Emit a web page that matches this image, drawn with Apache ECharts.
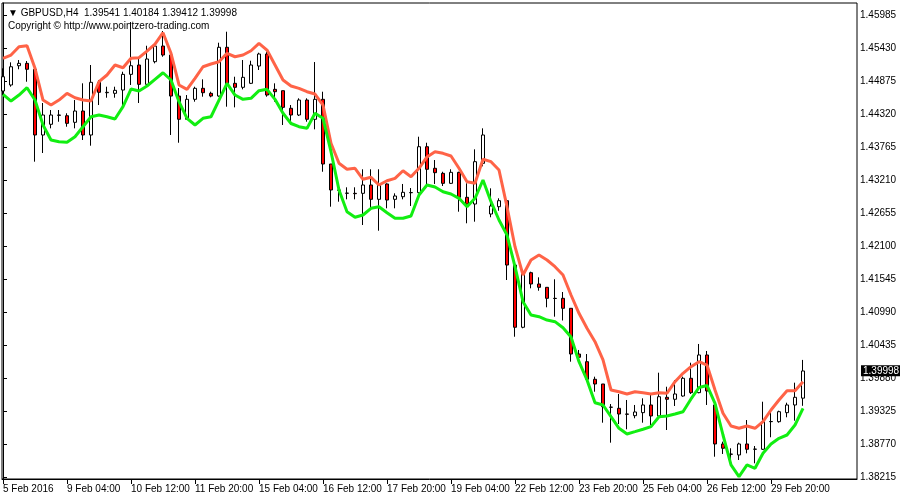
<!DOCTYPE html>
<html>
<head>
<meta charset="utf-8">
<script src="https://cdn.jsdelivr.net/npm/echarts@6/dist/echarts.min.js"></script>
<style>html,body{margin:0;padding:0;background:#fff}#c{width:900px;height:500px}</style>
</head>
<body>
<div id="c"></div>
<script>
// GBPUSD H4 candles: [open, close, low, high]
const candles = [
[1.44707,1.44947,1.44639,1.45088],
[1.44808,1.45115,1.44779,1.45189],
[1.45132,1.45172,1.45072,1.45228],
[1.45172,1.45072,1.44863,1.45211],
[1.45072,1.43967,1.43518,1.45088],
[1.43967,1.44303,1.43664,1.44505],
[1.44147,1.44303,1.44079,1.44387],
[1.44303,1.44298,1.44190,1.44387],
[1.44291,1.44163,1.44106,1.44332],
[1.44180,1.44370,1.44079,1.44555],
[1.44370,1.43967,1.43883,1.44836],
[1.43967,1.44853,1.43787,1.45144],
[1.44853,1.44685,1.44471,1.44892],
[1.44678,1.44685,1.44594,1.44779],
[1.44668,1.44718,1.44594,1.44779],
[1.44723,1.44987,1.44471,1.45031],
[1.44987,1.45132,1.44808,1.45867],
[1.45144,1.44819,1.44505,1.45262],
[1.44819,1.45245,1.44779,1.45468],
[1.45200,1.45463,1.45172,1.45509],
[1.45463,1.45312,1.45283,1.45716],
[1.45312,1.44622,1.43967,1.45329],
[1.44622,1.44231,1.43837,1.44757],
[1.44231,1.44567,1.44219,1.44639],
[1.44567,1.44752,1.44527,1.44779],
[1.44752,1.44678,1.44611,1.44903],
[1.44668,1.44622,1.44601,1.44695],
[1.44622,1.45442,1.44611,1.45519],
[1.45442,1.44808,1.44443,1.45704],
[1.44836,1.44769,1.44432,1.44947],
[1.44769,1.44937,1.44735,1.45228],
[1.44836,1.45144,1.44824,1.45216],
[1.45127,1.45329,1.45060,1.45351],
[1.45329,1.44639,1.44611,1.45368],
[1.44735,1.44695,1.44527,1.44836],
[1.44712,1.44432,1.44135,1.44712],
[1.44416,1.44303,1.44163,1.44471],
[1.44303,1.44555,1.44286,1.44584],
[1.44555,1.44231,1.44190,1.44584],
[1.44231,1.44567,1.44062,1.45194],
[1.44567,1.43479,1.43349,1.44695],
[1.43479,1.43042,1.42761,1.43479],
[1.43042,1.43037,1.42845,1.43075],
[1.42986,1.42990,1.42885,1.43087],
[1.42986,1.42980,1.42885,1.43087],
[1.42986,1.43126,1.42453,1.43390],
[1.43126,1.42885,1.42705,1.43390],
[1.42885,1.43126,1.42357,1.43390],
[1.43143,1.42873,1.42734,1.43154],
[1.42885,1.42941,1.42734,1.42986],
[1.42929,1.43003,1.42885,1.43143],
[1.42996,1.42999,1.42773,1.43075],
[1.42996,1.43770,1.42986,1.43938],
[1.43770,1.43390,1.43109,1.43837],
[1.43407,1.43333,1.43143,1.43546],
[1.43322,1.43154,1.43109,1.43349],
[1.43154,1.43339,1.43143,1.43390],
[1.43339,1.42919,1.42677,1.43349],
[1.42919,1.42806,1.42482,1.43154],
[1.42806,1.43518,1.42509,1.43726],
[1.43490,1.43967,1.43440,1.44079],
[1.42638,1.42773,1.42583,1.43070],
[1.42761,1.42862,1.42693,1.42902],
[1.42862,1.41780,1.41528,1.42873],
[1.41780,1.40733,1.40574,1.41780],
[1.40733,1.41641,1.40716,1.41668],
[1.41651,1.41461,1.41388,1.41668],
[1.41461,1.41405,1.41348,1.41573],
[1.41405,1.41220,1.41069,1.41405],
[1.41220,1.41217,1.40911,1.41540],
[1.41220,1.41052,1.40847,1.41326],
[1.41052,1.40283,1.40154,1.41052],
[1.40283,1.40228,1.40171,1.40351],
[1.40154,1.39858,1.39846,1.40283],
[1.39858,1.39779,1.39649,1.39902],
[1.39779,1.39397,1.39128,1.39779],
[1.39387,1.39390,1.38792,1.39442],
[1.39370,1.39274,1.39106,1.39611],
[1.39274,1.39270,1.39017,1.39510],
[1.39246,1.39308,1.39202,1.39426],
[1.39297,1.39426,1.39128,1.39538],
[1.39426,1.39241,1.39089,1.39611],
[1.39241,1.39565,1.39219,1.39969],
[1.39555,1.39522,1.39005,1.39733],
[1.39522,1.39611,1.39409,1.39846],
[1.39577,1.39875,1.39565,1.39902],
[1.39875,1.39633,1.39611,1.40137],
[1.39633,1.40267,1.39623,1.40452],
[1.40267,1.39661,1.39426,1.40334],
[1.39426,1.38770,1.38556,1.39481],
[1.38770,1.38698,1.38602,1.38809],
[1.38597,1.38600,1.38433,1.38698],
[1.38585,1.38770,1.38501,1.38792],
[1.38770,1.38681,1.38613,1.39173],
[1.38681,1.38684,1.38445,1.38736],
[1.38681,1.39145,1.38669,1.39481],
[1.39145,1.39148,1.38883,1.39342],
[1.39145,1.39313,1.39128,1.39330],
[1.39297,1.39426,1.39219,1.39464],
[1.39426,1.39555,1.39162,1.39801],
[1.39541,1.39998,1.39412,1.40184]
];

// Upper band (salmon) and lower band (green)
const redLine = [1.45257,1.45312,1.45452,1.45468,1.45088,1.44555,1.44471,1.44555,1.44668,1.44594,
1.44555,1.44538,1.44863,1.44976,1.45144,1.45098,1.45257,1.45267,1.45379,1.45497,
1.45687,1.45341,1.44808,1.44735,1.44920,1.45115,1.45161,1.45199,1.45341,1.45283,
1.45312,1.45384,1.45509,1.45396,1.45144,1.44892,1.44791,1.44752,1.44695,1.44656,
1.44471,1.43827,1.43491,1.43390,1.43407,1.43222,1.43255,1.43126,1.43198,1.43238,
1.43366,1.43265,1.43407,1.43597,1.43686,1.43659,1.43613,1.43407,1.43181,1.43154,
1.43558,1.43518,1.43378,1.42761,1.42088,1.41612,1.41864,1.41948,1.41864,1.41752,
1.41612,1.41276,1.40968,1.40716,1.40490,1.40183,1.39678,1.39649,1.39611,1.39649,
1.39633,1.39611,1.39633,1.39623,1.39818,1.39959,1.40070,1.40154,1.40098,1.39678,
1.39286,1.39073,1.39034,1.39073,1.39034,1.39145,1.39342,1.39510,1.39666,1.39666,
1.39818];

const greenLine = [1.44651,1.44538,1.44639,1.44762,1.44555,1.44135,1.43883,1.43854,1.43844,1.43938,
1.44106,1.44274,1.44303,1.44274,1.44236,1.44443,1.44740,1.44707,1.44791,1.44903,
1.45014,1.44892,1.44527,1.44247,1.44135,1.44247,1.44274,1.44555,1.44836,1.44639,
1.44567,1.44584,1.44712,1.44735,1.44567,1.44332,1.44160,1.44106,1.44079,1.44332,
1.44247,1.43686,1.43042,1.42677,1.42583,1.42621,1.42734,1.42761,1.42660,1.42566,
1.42566,1.42604,1.42958,1.43126,1.43092,1.43013,1.42974,1.42902,1.42761,1.42902,
1.43210,1.42845,1.42537,1.42285,1.41752,1.41163,1.40939,1.40911,1.40855,1.40827,
1.40724,1.40569,1.40154,1.39846,1.39464,1.39426,1.39229,1.39034,1.38938,1.38977,
1.39017,1.39061,1.39229,1.39241,1.39274,1.39313,1.39527,1.39720,1.39754,1.39454,
1.38921,1.38417,1.38220,1.38417,1.38361,1.38613,1.38770,1.38866,1.38921,1.39089,
1.39370];

// Time axis tick labels (every 8 bars)
const timeTickIndex = [0,8,16,24,32,40,48,56,64,72,80,88,96];
const timeTickLabels = ['5 Feb 2016','9 Feb 04:00','10 Feb 12:00','11 Feb 20:00','15 Feb 04:00','16 Feb 12:00',
  '17 Feb 20:00','19 Feb 04:00','22 Feb 12:00','23 Feb 20:00','25 Feb 04:00','26 Feb 12:00','29 Feb 20:00'];
// Price axis tick labels
const priceTicks = [1.38215,1.38770,1.39325,1.39880,1.40435,1.40990,1.41545,1.42100,
  1.42655,1.43210,1.43765,1.44320,1.44875,1.45430,1.45985];

const symbolName = 'GBPUSD,H4';
const copyright = 'Copyright \u00a9 http://www.pointzero-trading.com';

const FONT = '"Liberation Sans", Arial, sans-serif';
const last = candles[candles.length - 1];
const header = '\u25BC ' + symbolName + '  ' + [last[0], last[3], last[2], last[1]].map(v => v.toFixed(5)).join(' ');

const chart = echarts.init(document.getElementById('c'), null, {renderer: 'canvas'});
chart.setOption({
  animation: false,
  backgroundColor: '#ffffff',
  title: {
    text: header + '\n' + copyright,
    left: 3, top: 1,
    textStyle: {fontSize: 10, lineHeight: 13.5, fontWeight: 'normal', color: '#000', fontFamily: FONT}
  },
  grid: {left: 2, top: 3, width: 855, height: 476, show: true, borderColor: '#000', borderWidth: 1, backgroundColor: 'transparent'},
  xAxis: {
    type: 'value', min: -0.125, max: 106.75,
    splitLine: {show: false},
    axisLine: {show: true, onZero: false, lineStyle: {color: '#000', width: 1}},
    axisTick: {show: true, length: 5, lineStyle: {color: '#000'}, customValues: timeTickIndex},
    axisLabel: {
      color: '#000', fontSize: 10, fontFamily: FONT, align: 'left', margin: 5,
      customValues: timeTickIndex,
      formatter: v => { const i = timeTickIndex.indexOf(Math.round(v)); return i >= 0 ? timeTickLabels[i] : ''; }
    }
  },
  yAxis: {
    type: 'value', position: 'right', min: 1.38181, max: 1.46187, scale: true,
    splitLine: {show: false},
    axisLine: {show: true, lineStyle: {color: '#000', width: 1}},
    axisTick: {show: true, length: 4, lineStyle: {color: '#000'}, customValues: priceTicks},
    axisLabel: {color: '#000', fontSize: 10, fontFamily: FONT, margin: 3, customValues: priceTicks,
      formatter: v => v.toFixed(5)}
  },
  series: [
    {
      type: 'candlestick',
      data: candles.map((c, i) => [i, c[0], c[1], c[2], c[3]]),
      encode: {x: 0, y: [1, 2, 3, 4]},
      barWidth: 4,
      itemStyle: {color: '#ffffff', color0: '#ff0000', borderColor: '#000000', borderColor0: '#000000', borderWidth: 1},
      emphasis: {disabled: true},
      markLine: {
        silent: true, symbol: ['none', 'none'], animation: false,
        lineStyle: {color: 'rgba(0,0,0,0)', width: 0},
        label: {show: true, position: 'end', distance: 4, formatter: last[1].toFixed(5),
          backgroundColor: '#000', color: '#fff', fontSize: 10, fontFamily: FONT, padding: [1, 3, 0, 2]},
        data: [{yAxis: last[1]}]
      }
    },
    {
      type: 'line', data: redLine.map((v, i) => [i, v]), showSymbol: false, symbol: 'none',
      lineStyle: {color: '#ff6347', width: 3}, emphasis: {disabled: true}, z: 3
    },
    {
      type: 'line', data: greenLine.map((v, i) => [i, v]), showSymbol: false, symbol: 'none',
      lineStyle: {color: '#11ee11', width: 3}, emphasis: {disabled: true}, z: 3
    }
  ]
});
</script>
</body>
</html>
